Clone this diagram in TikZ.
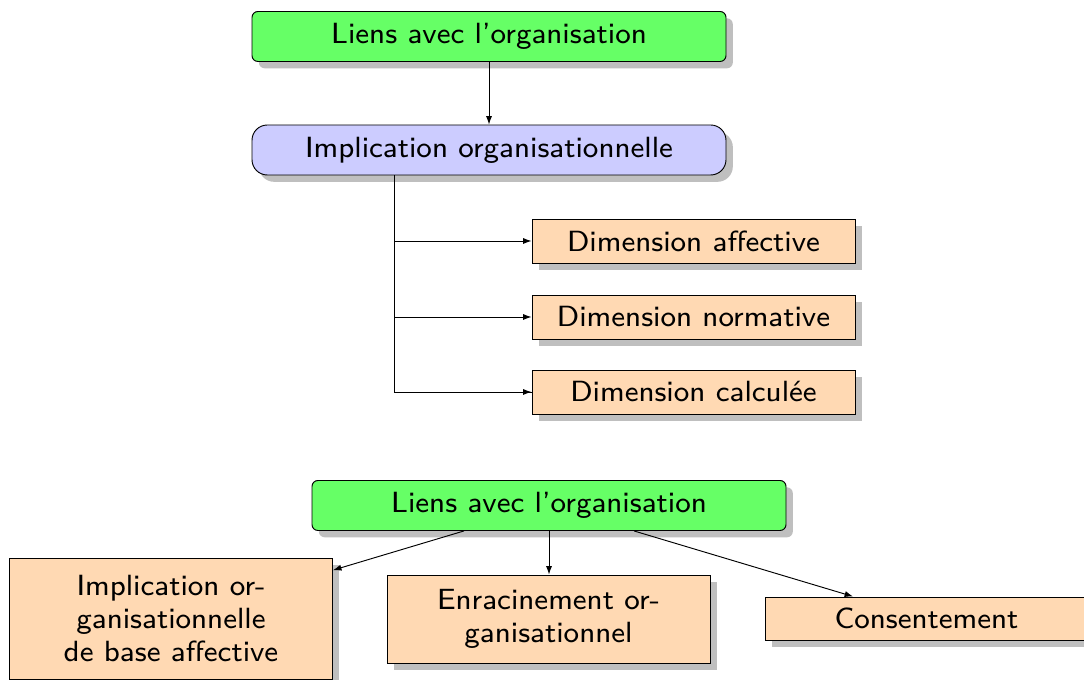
\documentclass[tikz,border=0pt]{standalone}
\usepackage{fontspec}
\newfontfamily\lmsseight{lmsans8-regular}[Extension=.otf]
\usetikzlibrary{shadows,calc,arrows.meta}
\definecolor{boxgreen}{HTML}{66FF66}
\definecolor{boxblue}{HTML}{CCCCFF}
\definecolor{boxorange}{HTML}{FFD9B3}
\tikzset{
  base/.style={draw=black, line width=0.4pt, inner sep=0pt, align=center,
    font=\lmsseight\fontsize{12.4}{14.1}\selectfont,
    drop shadow={fill=black!25, opacity=1, shadow xshift=2.9pt, shadow yshift=-2.9pt}},
  greenbox/.style={base, fill=boxgreen, rounded corners=2.5pt, minimum width=474*0.4242pt, minimum height=50*0.4242pt},
  bluebox/.style={base, fill=boxblue, rounded corners=6.5pt, minimum width=474*0.4242pt, minimum height=50*0.4242pt},
  orangebox/.style={base, fill=boxorange, minimum width=323*0.4242pt},
  conn/.style={line width=0.4pt, -{Latex[length=3.6pt,width=2.6pt]}},
  line/.style={line width=0.4pt}
}
\begin{document}
\begin{tikzpicture}[x=0.4242pt, y=-0.4242pt]
\useasboundingbox (0,0) rectangle (1084,680);
% upper part
\node[greenbox] (g1) at (489,36.5) {Liens avec l’organisation};
\node[bluebox] (impl) at (489,150) {Implication organisationnelle};
\node[orangebox, minimum height=44*0.4242pt] (d1) at (693.5,241) {Dimension affective};
\node[orangebox, minimum height=44*0.4242pt] (d2) at (693.5,317) {Dimension normative};
\node[orangebox, minimum height=44*0.4242pt] (d3) at (693.5,392) {Dimension calculée};
\draw[conn] (g1) -- (impl);
\coordinate (t) at ($(impl.south west)!0.3!(impl.south east)$);
\draw[line] (t) |- (d3.west);
\draw[conn] (t |- d1.west) -- (d1.west);
\draw[conn] (t |- d2.west) -- (d2.west);
\draw[conn] (t |- d3.west) -- (d3.west);
% lower part
\node[greenbox] (g2) at (549,505.5) {Liens avec l’organisation};
\node[orangebox, minimum height=121*0.4242pt] (l) at (171,618.5) {Implication or-\\ganisationnelle\\de base affective};
\node[orangebox, minimum height=88*0.4242pt] (m) at (548.5,619) {Enracinement or-\\ganisationnel};
\node[orangebox, minimum height=43*0.4242pt] (r) at (926.5,618.5) {Consentement};
\draw[conn] (g2) -- (l);
\draw[conn] (g2.center |- g2.south) -- (m.north -| g2.center);
\draw[conn] (g2) -- (r);
\end{tikzpicture}
\end{document}
